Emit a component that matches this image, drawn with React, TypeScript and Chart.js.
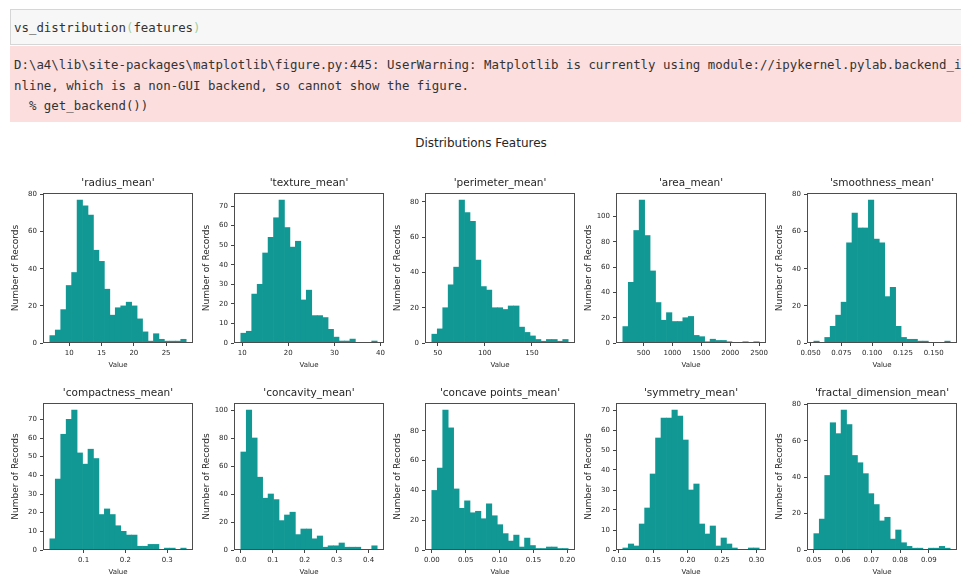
import React, { useEffect, useRef } from "react";
import { Chart, registerables } from "chart.js";

Chart.register(...registerables);

const FONT = '"DejaVu Sans", sans-serif';
const MONO = '"DejaVu Sans Mono", monospace';
const TEXT = "#262626";
const BAR = "#119895";

const featureNames = [
  "radius_mean", "texture_mean", "perimeter_mean", "area_mean", "smoothness_mean",
  "compactness_mean", "concavity_mean", "concave points_mean", "symmetry_mean", "fractal_dimension_mean",
];
const featureMin = [6.981, 9.71, 43.79, 143.5, 0.05263, 0.01938, 0, 0, 0.106, 0.04996];
const featureMax = [28.11, 39.28, 188.5, 2501, 0.1634, 0.3454, 0.4268, 0.2012, 0.304, 0.09744];

const radiusCounts = [4, 7, 18, 31, 38, 77, 74, 69, 50, 44, 29, 15, 19, 20, 22, 20, 13, 6, 1, 5, 2, 1, 1, 1, 2];
const textureCounts = [5, 6, 25, 30, 46, 54, 64, 73, 59, 49, 52, 22, 27, 14, 14, 13, 7, 3, 1, 1, 2, 0, 0, 0, 1];
const perimeterCounts = [5, 8, 20, 33, 43, 81, 74, 69, 47, 32, 30, 20, 20, 19, 21, 21, 9, 6, 4, 2, 1, 2, 2, 1, 2];
const areaCounts = [13, 48, 89, 113, 85, 57, 32, 18, 24, 17, 17, 20, 21, 6, 5, 1, 3, 2, 2, 1, 0, 0, 1, 0, 1];
const smoothnessCounts = [1, 0, 3, 9, 15, 22, 54, 70, 62, 62, 77, 56, 54, 25, 30, 9, 3, 2, 2, 1, 1, 0, 0, 0, 1];
const compactnessCounts = [6, 38, 62, 70, 75, 52, 46, 54, 49, 19, 22, 19, 13, 10, 8, 8, 2, 2, 3, 3, 0, 1, 1, 0, 1];
const concavityCounts = [70, 100, 80, 52, 37, 40, 36, 21, 25, 27, 11, 15, 15, 8, 10, 2, 3, 3, 5, 2, 2, 2, 0, 0, 3];
const concavePointsCounts = [40, 55, 94, 82, 41, 28, 33, 25, 26, 21, 31, 23, 17, 11, 6, 10, 2, 8, 3, 1, 1, 2, 2, 1, 1];
const symmetryCounts = [1, 3, 2, 13, 21, 38, 56, 66, 66, 70, 67, 55, 30, 33, 13, 8, 12, 2, 6, 3, 1, 0, 0, 1, 1];
const fractalCounts = [9, 17, 41, 70, 64, 77, 69, 52, 48, 42, 31, 25, 16, 18, 6, 11, 4, 2, 1, 1, 0, 1, 1, 2, 1];

const allCounts = [
  radiusCounts, textureCounts, perimeterCounts, areaCounts, smoothnessCounts,
  compactnessCounts, concavityCounts, concavePointsCounts, symmetryCounts, fractalCounts,
];

const xTickValues = [
  [10, 15, 20, 25],
  [10, 20, 30, 40],
  [50, 100, 150],
  [500, 1000, 1500, 2000, 2500],
  [0.05, 0.075, 0.1, 0.125, 0.15],
  [0.1, 0.2, 0.3],
  [0, 0.1, 0.2, 0.3, 0.4],
  [0, 0.05, 0.1, 0.15, 0.2],
  [0.1, 0.15, 0.2, 0.25, 0.3],
  [0.05, 0.06, 0.07, 0.08, 0.09],
];
const xTickLabels = [
  ["10", "15", "20", "25"],
  ["10", "20", "30", "40"],
  ["50", "100", "150"],
  ["500", "1000", "1500", "2000", "2500"],
  ["0.050", "0.075", "0.100", "0.125", "0.150"],
  ["0.1", "0.2", "0.3"],
  ["0.0", "0.1", "0.2", "0.3", "0.4"],
  ["0.00", "0.05", "0.10", "0.15", "0.20"],
  ["0.10", "0.15", "0.20", "0.25", "0.30"],
  ["0.05", "0.06", "0.07", "0.08", "0.09"],
];
const yTickValues = [
  [0, 20, 40, 60, 80],
  [0, 10, 20, 30, 40, 50, 60, 70],
  [0, 20, 40, 60, 80],
  [0, 20, 40, 60, 80, 100],
  [0, 20, 40, 60, 80],
  [0, 10, 20, 30, 40, 50, 60, 70],
  [0, 20, 40, 60, 80, 100],
  [0, 20, 40, 60, 80],
  [0, 10, 20, 30, 40, 50, 60, 70],
  [0, 20, 40, 60, 80],
];

const BINS = 25;
const COL_LEFT = [43, 234, 425, 616, 807];
const ROW_TOP = [193, 403];
const ROW_H = [150, 147];
const PLOT_W = 150;
const Y_AXIS_W = 36;
const TITLE_H = 16;
const X_AXIS_H = 30;
const RIGHT_PAD = 5;

const framePlugin = {
  id: "frame",
  afterDatasetsDraw(chart: any) {
    const { ctx, chartArea } = chart;
    ctx.save();
    ctx.strokeStyle = "#4d4d4d";
    ctx.lineWidth = 1;
    ctx.strokeRect(
      Math.round(chartArea.left) + 0.5,
      Math.round(chartArea.top) + 0.5,
      Math.round(chartArea.right - chartArea.left) - 1,
      Math.round(chartArea.bottom - chartArea.top) - 1
    );
    ctx.restore();
  },
};

const subTitlePlugin = {
  id: "subTitle",
  afterDraw(chart: any, _args: any, opts: any) {
    const { ctx, chartArea } = chart;
    ctx.save();
    ctx.fillStyle = TEXT;
    ctx.font = `10.5px ${FONT}`;
    ctx.textAlign = "center";
    ctx.textBaseline = "middle";
    ctx.fillText(opts.text, (chartArea.left + chartArea.right) / 2, chartArea.top - 10);
    ctx.restore();
  },
};

function Hist({ idx }: { idx: number }) {
  const ref = useRef<HTMLCanvasElement | null>(null);
  const col = idx % 5;
  const row = Math.floor(idx / 5);
  const ph = ROW_H[row];
  const left = COL_LEFT[col] - Y_AXIS_W;
  const top = ROW_TOP[row] - TITLE_H;
  const width = Y_AXIS_W + PLOT_W + RIGHT_PAD;
  const height = TITLE_H + ph + X_AXIS_H;

  useEffect(() => {
    if (!ref.current) return;
    const counts = allCounts[idx];
    const lo = featureMin[idx];
    const hi = featureMax[idx];
    const bw = (hi - lo) / BINS;
    const pts = counts.map((c, i) => ({ x: lo + (i + 0.5) * bw, y: c }));
    const margin = (hi - lo) * 0.05;
    const ymax = Math.max(...counts) * 1.05;
    const xt = xTickValues[idx];
    const xl = xTickLabels[idx];
    const yt = yTickValues[idx];

    const gridOpts = {
      display: true,
      drawOnChartArea: false,
      drawTicks: true,
      tickLength: 3,
      tickColor: "#444",
      offset: false,
    };

    const chart = new Chart(ref.current, {
      type: "bar",
      data: {
        datasets: [
          {
            data: pts as any,
            backgroundColor: BAR,
            borderWidth: 0,
            barPercentage: 1,
            categoryPercentage: 1,
          },
        ],
      },
      options: {
        animation: false,
        responsive: false,
        maintainAspectRatio: false,
        layout: { padding: { top: TITLE_H, right: RIGHT_PAD, bottom: 0, left: 0 } },
        plugins: {
          legend: { display: false },
          tooltip: { enabled: false },
          title: { display: false },
          subTitle: { text: `'${featureNames[idx]}'` },
        } as any,
        scales: {
          x: {
            type: "linear",
            min: lo - margin,
            max: hi + margin,
            offset: false,
            grid: gridOpts as any,
            border: { display: false },
            ticks: {
              autoSkip: false,
              maxRotation: 0,
              minRotation: 0,
              padding: 3,
              color: TEXT,
              font: { family: FONT, size: 7 },
              callback: (_v: any, i: number) => xl[i],
            },
            afterBuildTicks: (s: any) => {
              s.ticks = xt.map((v) => ({ value: v }));
            },
            afterFit: (s: any) => {
              s.height = X_AXIS_H;
              s.paddingLeft = 0;
              s.paddingRight = 0;
            },
            title: {
              display: true,
              text: "Value",
              color: TEXT,
              font: { family: FONT, size: 7 },
              padding: { top: 0, bottom: 4 },
            },
          } as any,
          y: {
            type: "linear",
            min: 0,
            max: ymax,
            grid: gridOpts as any,
            border: { display: false },
            ticks: {
              autoSkip: false,
              padding: 3,
              color: TEXT,
              font: { family: FONT, size: 7 },
              callback: (v: any) => String(v),
            },
            afterBuildTicks: (s: any) => {
              s.ticks = yt.map((v) => ({ value: v }));
            },
            afterFit: (s: any) => {
              s.width = Y_AXIS_W;
              s.paddingTop = 0;
              s.paddingBottom = 0;
            },
            title: {
              display: true,
              text: "Number of Records",
              color: TEXT,
              font: { family: FONT, size: 9 },
              padding: { top: 3, bottom: 0 },
            },
          } as any,
        },
      },
      plugins: [framePlugin, subTitlePlugin],
    });
    return () => chart.destroy();
  }, [idx]);

  return (
    <canvas
      ref={ref}
      width={width}
      height={height}
      style={{ position: "absolute", left, top, width, height }}
    />
  );
}

const codeLine = "vs_distribution";
const codeArg = "features";
const warningLines = [
  "D:\\a4\\lib\\site-packages\\matplotlib\\figure.py:445: UserWarning: Matplotlib is currently using module://ipykernel.pylab.backend_i",
  "nline, which is a non-GUI backend, so cannot show the figure.",
  "  % get_backend())",
];
const figureTitle = "Distributions Features";

export default function App() {
  return (
    <div
      style={{
        position: "absolute",
        left: 0,
        top: 0,
        width: 961,
        height: 579,
        background: "#ffffff",
        overflow: "hidden",
        fontFamily: FONT,
      }}
    >
      <div
        style={{
          position: "absolute",
          left: 10,
          top: 9,
          width: 951,
          height: 36,
          boxSizing: "border-box",
          background: "#f7f7f7",
          border: "1px solid #d6d6d6",
          borderRight: "none",
          fontFamily: MONO,
          fontSize: 12.4,
          lineHeight: "36px",
          color: "#333",
          paddingLeft: 3,
          whiteSpace: "pre",
        }}
      >
        {codeLine}
        <span style={{ color: "#9fcf9f" }}>(</span>
        {codeArg}
        <span style={{ color: "#9fcf9f" }}>)</span>
      </div>
      <div
        style={{
          position: "absolute",
          left: 10,
          top: 46,
          width: 951,
          height: 76,
          boxSizing: "border-box",
          background: "#fcdede",
          fontFamily: MONO,
          fontSize: 12.4,
          lineHeight: "20.5px",
          color: "#333",
          paddingLeft: 4,
          paddingTop: 9,
          whiteSpace: "pre",
          overflow: "hidden",
        }}
      >
        {warningLines.map((l, i) => (
          <div key={i}>{l}</div>
        ))}
      </div>
      <div
        style={{
          position: "absolute",
          left: 0,
          top: 135,
          width: 962,
          textAlign: "center",
          fontSize: 12,
          lineHeight: "16px",
          color: TEXT,
        }}
      >
        {figureTitle}
      </div>
      {featureNames.map((_, i) => (
        <Hist key={i} idx={i} />
      ))}
    </div>
  );
}
